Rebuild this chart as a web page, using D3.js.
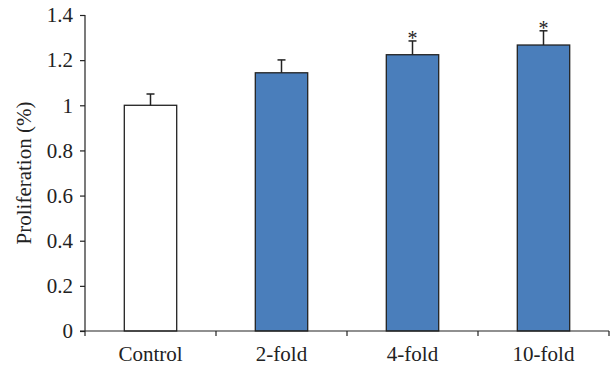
<!DOCTYPE html>
<html>
<head>
<meta charset="utf-8">
<script src="https://cdn.jsdelivr.net/npm/d3@7"></script>
<style>
  body { margin: 0; padding: 0; background: #fff; }
  text { font-family: "Liberation Serif", "DejaVu Serif", serif; }
</style>
</head>
<body>
<script>
// groups and the measured means / error bars
const groups = ["Control", "2-fold", "4-fold", "10-fold"]
const means = [1.0, 1.144, 1.224, 1.267]
const errors = [0.05, 0.057, 0.061, 0.063]
const starred = [false, false, true, true]
const yTicks = [0, 0.2, 0.4, 0.6, 0.8, 1, 1.2, 1.4]

const width = 610
const height = 368
const margin = {top: 15, right: 1, bottom: 37, left: 85}
const fontSize = 21

const svg = d3.select("body").append("svg")
  .attr("width", width)
  .attr("height", height)

const x = d3.scaleBand()
  .domain(groups)
  .range([margin.left, width - margin.right])
  .paddingInner(0.6)
  .paddingOuter(0.3)

const y = d3.scaleLinear()
  .domain([0, 1.4])
  .range([height - margin.bottom, margin.top])

// y axis
const yAxis = svg.append("g")
  .attr("transform", `translate(${margin.left},0)`)
  .call(d3.axisLeft(y).tickValues(yTicks).tickSize(5).tickPadding(7)
    .tickFormat(d => d3.format("")(+d.toFixed(1))))
yAxis.selectAll("text").attr("font-size", fontSize).attr("fill", "#222")
  .style("font-family", "Liberation Serif")
yAxis.selectAll("line, path").attr("stroke", "#222").attr("stroke-width", 1.2)
yAxis.select("path").attr("d", `M0,${y(0)}V${y(1.4)}`)

// bars
svg.append("g")
  .selectAll("rect")
  .data(groups)
  .join("rect")
  .attr("x", d => x(d))
  .attr("y", (d, i) => y(means[i]))
  .attr("width", x.bandwidth())
  .attr("height", (d, i) => y(0) - y(means[i]))
  .attr("fill", (d, i) => i === 0 ? "#fff" : "#4a7ebb")
  .attr("stroke", "#222")
  .attr("stroke-width", 1.3)

// error bars (upper only)
const err = svg.append("g").attr("stroke", "#222").attr("stroke-width", 1.5)
groups.forEach((g, i) => {
  const cx = x(g) + x.bandwidth() / 2
  err.append("line")
    .attr("x1", cx).attr("x2", cx)
    .attr("y1", y(means[i])).attr("y2", y(means[i] + errors[i]))
  err.append("line")
    .attr("x1", cx - 4).attr("x2", cx + 4)
    .attr("y1", y(means[i] + errors[i])).attr("y2", y(means[i] + errors[i]))
  if (starred[i]) {
    svg.append("text")
      .attr("x", cx)
      .attr("y", y(means[i] + errors[i]) + 4)
      .attr("text-anchor", "middle")
      .attr("font-size", 20)
      .attr("fill", "#222")
      .text("*")
  }
})

// x axis with ticks at category boundaries
const x0 = margin.left
const x1 = width - margin.right
const step = (x1 - x0) / groups.length
const xAxis = svg.append("g").attr("stroke", "#222").attr("stroke-width", 1.2)
xAxis.append("line")
  .attr("x1", x0 - 5).attr("x2", x1)
  .attr("y1", y(0)).attr("y2", y(0))
d3.range(groups.length + 1).forEach(k => {
  xAxis.append("line")
    .attr("x1", x0 + k * step).attr("x2", x0 + k * step)
    .attr("y1", y(0)).attr("y2", y(0) + 5)
})
svg.append("g")
  .selectAll("text")
  .data(groups)
  .join("text")
  .attr("x", d => x(d) + x.bandwidth() / 2)
  .attr("y", y(0) + 30)
  .attr("text-anchor", "middle")
  .attr("font-size", fontSize)
  .attr("fill", "#222")
  .text(d => d)

// y label
svg.append("text")
  .attr("transform", `translate(31,${(y(0) + y(1.4)) / 2}) rotate(-90)`)
  .attr("text-anchor", "middle")
  .attr("font-size", fontSize)
  .attr("fill", "#222")
  .text("Proliferation (%)")
</script>
</body>
</html>
